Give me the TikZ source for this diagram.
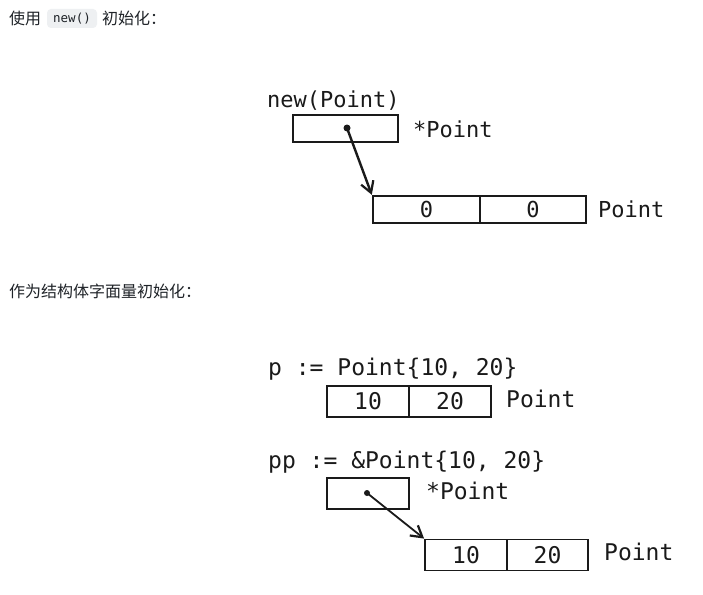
\documentclass[tikz,border=0pt]{standalone}
\usepackage{fontspec}
\newfontfamily\cjk{Noto Sans CJK SC}
\newfontfamily\code{DejaVu Sans Mono}
\usetikzlibrary{arrows.meta}
\definecolor{headtext}{HTML}{1F2328}
\definecolor{codebg}{HTML}{EEF0F2}
\definecolor{ink}{HTML}{1A1A1A}
\tikzset{
  heading/.style={anchor=west, inner sep=0pt, text=headtext, font=\cjk\fontsize{16}{18}\selectfont},
  inlinecode/.style={fill=codebg, rounded corners=4pt, inner sep=0pt, minimum width=50pt, minimum height=19pt, text=headtext, font=\code\fontsize{12.5}{14}\selectfont},
  label22/.style={anchor=base west, inner sep=0pt, text=ink, font=\code\fontsize{22}{24}\selectfont},
  label23/.style={anchor=base west, inner sep=0pt, text=ink, font=\code\fontsize{23}{25}\selectfont},
  cellA/.style={draw=ink, line width=2.4pt, inner sep=0pt, minimum height=27pt, text=ink, font=\code\fontsize{22}{24}\selectfont},
  cellB/.style={draw=ink, line width=1.8pt, inner sep=0pt, minimum height=31pt, text=ink, font=\code\fontsize{23}{25}\selectfont},
  dotmark/.style={circle, fill=ink, inner sep=0pt, minimum size=7pt},
  ptrarrow/.style={draw=ink, line width=2.4pt, -{Straight Barb[length=11pt,width=13pt,line width=2.2pt]}}
}
\begin{document}
\begin{tikzpicture}[x=1pt,y=-1pt]
\useasboundingbox (0,0) rectangle (703,594);
\fill[white] (0,0) rectangle (703,594);

% headings
\node[heading] (h1) at (9,18) {使用};
\node[inlinecode] (h1code) at (72,18.5) {new()};
\node[heading] (h1b) at (102,18) {初始化：};
\node[heading] (h2) at (9,291) {作为结构体字面量初始化：};

% new(Point)
\node[label22] (t1) at (267,107) {new(Point)};
\node[cellA, minimum width=105pt] (p1) at (345.5,128.5) {};
\node[label22] (t1s) at (413,137) {*Point};
\node[cellA, minimum width=107pt] (a1) at (426.5,209.5) {0};
\node[cellA, minimum width=106pt] (a2) at (533,209.5) {0};
\node[label22] (t1p) at (598,217) {Point};
\node[dotmark] (d1) at (347,128) {};
\draw[ptrarrow] (d1.center) -- (a1.north west);

% p := Point{10, 20}
\node[label23] (t2) at (268,375) {p := Point\{10, 20\}};
\node[cellB, minimum width=82pt] (b1) at (368,401.5) {10};
\node[cellB, minimum width=82pt] (b2) at (450,401.5) {20};
\node[label23] (t2p) at (506,407) {Point};

% pp := &Point{10, 20}
\node[label23] (t3) at (268,468) {pp := \&Point\{10, 20\}};
\node[cellB, minimum width=82pt] (p3) at (368,493.5) {};
\node[label23] (t3s) at (426,499) {*Point};
\node[cellB, minimum width=82pt] (c1) at (466,555) {10};
\node[cellB, minimum width=81pt] (c2) at (547.5,555) {20};
\node[label23] (t3p) at (604,560) {Point};
\node[dotmark, minimum size=6pt] (d3) at (367,493) {};
\draw[ptrarrow, line width=1.8pt] (d3.center) -- (c1.north west);
\end{tikzpicture}
\end{document}
